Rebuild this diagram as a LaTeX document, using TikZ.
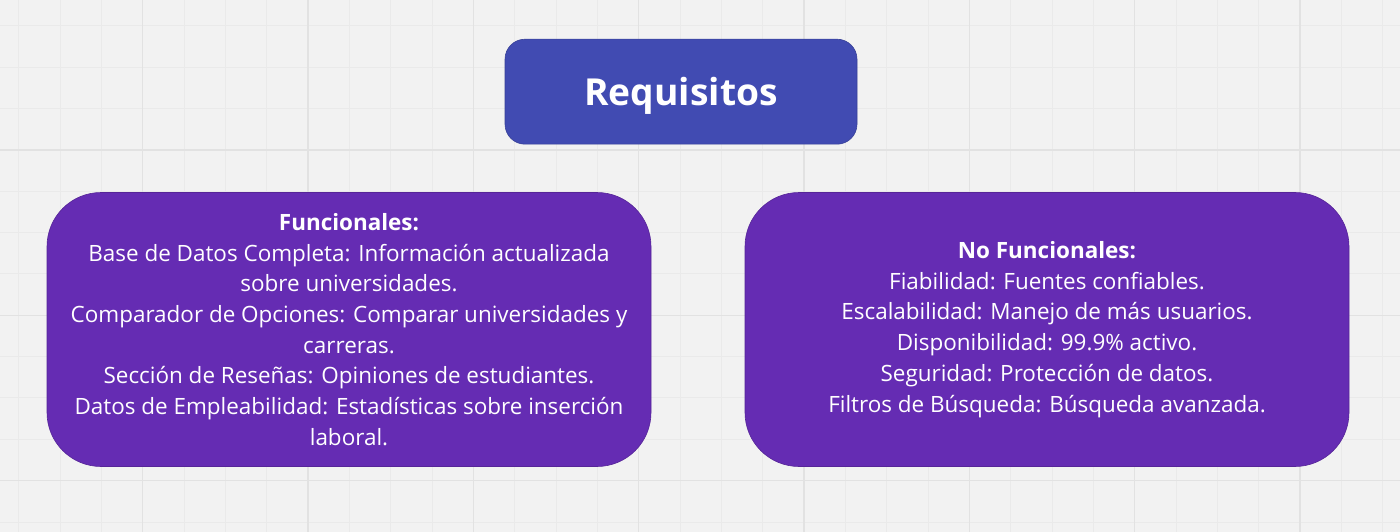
\documentclass[tikz,border=0pt]{standalone}
\usepackage{fontspec}
\setmainfont{Open Sans}
\definecolor{bgc}{HTML}{F2F2F2}
\definecolor{minorc}{HTML}{EAEAEA}
\definecolor{majorc}{HTML}{E2E2E2}
\definecolor{topc}{HTML}{414BB2}
\definecolor{purc}{HTML}{652CB3}
\tikzset{
  minorline/.style={draw=minorc, line width=1pt},
  majorline/.style={draw=majorc, line width=1.4pt},
  titlebox/.style={rectangle, rounded corners=20pt, fill=topc, draw=topc!85!black, line width=0.6pt,
    text=white, inner sep=0pt, minimum width=352pt, minimum height=105pt, text depth=0pt,
    font=\fontsize{37.2}{44}\selectfont\bfseries},
  reqbox/.style={rectangle, rounded corners=54pt, fill=purc, draw=purc!85!black, line width=0.6pt,
    text=white, inner sep=0pt, minimum width=604pt, minimum height=274pt, align=center,
    font=\fontsize{22.45}{30.7}\selectfont}
}
\begin{document}
\begin{tikzpicture}[x=1pt,y=-1pt]
\useasboundingbox (0,0) rectangle (1400,532);
\fill[bgc] (0,0) rectangle (1400,532);
\foreach \i in {0,...,33} {\draw[minorline] ({18.67+41.333*\i},0) -- ({18.67+41.333*\i},532);}
\foreach \j in {0,...,12} {\draw[minorline] (0,{26+41.333*\j}) -- (1400,{26+41.333*\j});}
\foreach \i in {0,...,7} {\draw[majorline] ({142.67+165.333*\i},0) -- ({142.67+165.333*\i},532);}
\foreach \j in {0,...,2} {\draw[majorline] (0,{150+165.333*\j}) -- (1400,{150+165.333*\j});}

\node[titlebox] (req) at (681,91.7) {Requisitos};

\node[reqbox] (func) at (349,329.5) {\textbf{Funcionales:}\\
Base de Datos Completa: Información actualizada\\
sobre universidades.\\
Comparador de Opciones: Comparar universidades y\\
carreras.\\
Sección de Reseñas: Opiniones de estudiantes.\\
Datos de Empleabilidad: Estadísticas sobre inserción\\
laboral.};

\node[reqbox] (nofunc) at (1047,329.5) {\textbf{No Funcionales:}\\
Fiabilidad: Fuentes confiables.\\
Escalabilidad: Manejo de más usuarios.\\
Disponibilidad: 99.9\% activo.\\
Seguridad: Protección de datos.\\
Filtros de Búsqueda: Búsqueda avanzada.};
\end{tikzpicture}
\end{document}
